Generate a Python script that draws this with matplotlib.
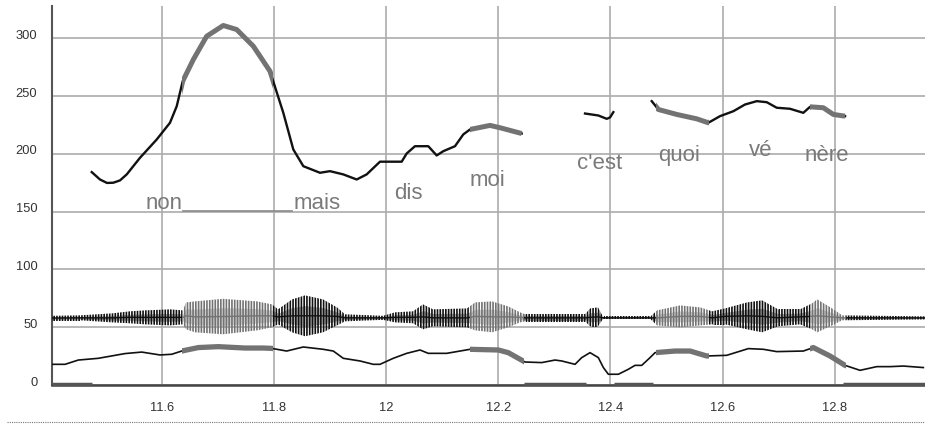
import numpy as np
import matplotlib
matplotlib.use('Agg')
import matplotlib.pyplot as plt
from matplotlib.path import Path
from matplotlib.patches import PathPatch
from matplotlib.lines import Line2D
import matplotlib.transforms as mtrans

plt.rcParams['font.family'] = ['Liberation Sans', 'DejaVu Sans']
plt.rcParams['hatch.linewidth'] = 1.2

nan = np.nan

# ---------------- data ----------------
# F0 contour (Hz); nan separates voiced stretches
pitch_t = [11.4753, 11.490, 11.5025, 11.5138, 11.5257, 11.5377, 11.5614, 11.5911, 11.6148,
           11.6268, 11.6375, 11.6564, 11.6802, 11.7098, 11.7337, 11.7633, 11.7931, 11.8168,
           11.8346, 11.8525, 11.8822, 11.9000, 11.9237, 11.9476, 11.9654, 11.9891, 12.0278,
           12.0367, 12.0515, 12.0752, 12.0902, 12.1020, 12.1228, 12.1376, 12.1496, 12.1852,
           12.2031, 12.2417,
           nan,
           12.3546, 12.3783, 12.3933, 12.3992, 12.4051,
           nan,
           12.4735, 12.4853, 12.5181, 12.5537, 12.5744, 12.5952, 12.6190, 12.6398, 12.6607,
           12.6785, 12.6963, 12.7200, 12.7437, 12.7557, 12.7794, 12.7972, 12.8181]
pitch_f = [184.3, 177.9, 174.9, 175.1, 177.1, 182.3, 196.7, 212.5, 227.0,
           241.3, 263.0, 281.7, 301.9, 311.2, 307.7, 293.3, 271.6, 235.6,
           203.9, 189.4, 183.7, 185.1, 182.3, 177.9, 182.3, 193.3, 193.3,
           200.4, 206.7, 206.7, 198.7, 202.4, 206.7, 216.9, 221.2, 224.7,
           222.7, 217.7,
           nan,
           235.0, 233.3, 230.4, 231.6, 236.2,
           nan,
           245.7, 238.5, 234.2, 230.4, 227.0, 232.7, 237.0, 242.8, 245.7,
           244.8, 240.0, 239.1, 235.6, 240.8, 240.0, 234.2, 232.7]

# intensity curve
inten_t = [11.4040, 11.4277, 11.4514, 11.4870, 11.5346, 11.5644, 11.5970, 11.6179, 11.6357,
           11.6653, 11.7009, 11.7485, 11.7811, 11.7961, 11.8228, 11.8524, 11.8881, 11.9059,
           11.9237, 11.9535, 11.9772, 11.9891, 12.0128, 12.0367, 12.0605, 12.0752, 12.1080,
           12.1496, 12.2000, 12.2178, 12.2476, 12.2774, 12.3011, 12.3131, 12.3368, 12.3487,
           12.3635, 12.3783, 12.3873, 12.3962, 12.4140, 12.4318, 12.4437, 12.4557, 12.4705,
           12.4794, 12.5151, 12.5418, 12.5716, 12.6072, 12.6457, 12.6725, 12.6963, 12.7437,
           12.7616, 12.7913, 12.8181, 12.8448, 12.8746, 12.8983, 12.9220, 12.9577]
inten_v = [17.9, 17.9, 21.6, 23.1, 27.2, 28.5, 26.0, 26.6, 29.4,
           32.4, 33.2, 32.0, 32.0, 31.7, 29.4, 32.9, 30.9, 29.4,
           23.1, 20.8, 17.9, 17.9, 23.1, 27.4, 30.3, 27.4, 27.4,
           30.9, 30.3, 28.0, 19.9, 19.4, 21.6, 20.8, 17.9, 23.7,
           28.0, 23.7, 15.1, 9.3, 9.3, 13.6, 17.0, 17.0, 23.7,
           28.0, 29.4, 29.4, 25.1, 25.7, 31.5, 30.9, 28.9, 29.4,
           32.4, 25.1, 17.0, 12.7, 15.9, 15.9, 16.4, 15.1]

# waveform envelope (upper / lower, drawn around ~57)
wave_t = [11.4045, 11.4544, 11.5115, 11.5435, 11.5703, 11.6148, 11.6380, 11.6434, 11.6594,
          11.7093, 11.7699, 11.7967, 11.8074, 11.8323, 11.8555, 11.8876, 11.9125, 11.9268,
          11.9945, 12.0159, 12.0480, 12.0658, 12.0837, 12.1443, 12.1586, 12.1889, 12.2174,
          12.2388, 12.2477, 12.3547, 12.3636, 12.3778, 12.3868, 12.4706, 12.4830, 12.5240,
          12.5597, 12.5811, 12.6043, 12.6435, 12.6702, 12.6988, 12.7380, 12.7594, 12.7684,
          12.7951, 12.8129, 12.9608]
wave_hi = [59.9, 60.3, 62.0, 63.8, 64.6, 65.5, 64.6, 71.5, 72.4,
           74.6, 72.4, 69.8, 65.5, 74.1, 77.6, 74.1, 67.2, 61.2,
           59.9, 62.9, 63.8, 69.8, 65.5, 66.3, 71.5, 72.4, 68.1,
           62.9, 61.2, 61.2, 66.3, 67.2, 59.0, 59.0, 64.6, 68.9,
           67.2, 63.8, 66.3, 71.5, 73.3, 65.5, 65.5, 70.7, 74.1,
           66.3, 60.3, 59.4]
wave_lo = [56.0, 56.0, 54.2, 53.4, 52.5, 51.6, 52.5, 48.2, 45.6,
           43.9, 47.3, 49.9, 52.5, 45.6, 42.2, 45.6, 51.6, 55.1,
           56.4, 54.2, 53.4, 48.2, 50.8, 49.9, 47.3, 45.6, 49.9,
           54.2, 55.1, 55.1, 50.8, 50.8, 57.3, 57.3, 51.6, 49.9,
           51.6, 52.5, 52.5, 48.2, 45.6, 50.8, 52.5, 48.2, 45.6,
           51.6, 56.0, 56.8]

# highlighted (stressed) stretches
spans = [(11.637, 11.798), (12.149, 12.245), (12.481, 12.575), (12.755, 12.820)]

# unvoiced stretches marked on the time axis
unvoiced = [(11.404, 11.476), (12.245, 12.356), (12.406, 12.476), (12.814, 12.961)]

# syllable labels
words = ["non", "mais", "dis", "moi", "c'est", "quoi", "vé", "nère"]
word_t = [11.6041, 11.8769, 12.0391, 12.1808, 12.3813, 12.5230, 12.6680, 12.7854]
word_y = [152.0, 152.0, 160.6, 171.9, 186.6, 193.5, 197.8, 193.5]

xticks = [11.6, 11.8, 12.0, 12.2, 12.4, 12.6, 12.8]
xtick_labels = ["11.6", "11.8", "12", "12.2", "12.4", "12.6", "12.8"]
yticks = [0, 50, 100, 150, 200, 250, 300]

# ---------------- figure ----------------
fig = plt.figure(figsize=(9.25, 4.26), dpi=100)
ax = fig.add_axes([52 / 925, 41 / 426, 1 - 52 / 925, 379.5 / 426])
xlim = (11.4045, 12.9606)
ax.set_xlim(*xlim)
ax.set_ylim(0, 328.5)

ax.set_xticks(xticks)
ax.set_xticklabels(xtick_labels)
ax.set_yticks(yticks)
ax.tick_params(axis='both', length=0, labelsize=9.3, labelcolor='#333333')
ax.tick_params(axis='x', pad=12.5)
ax.tick_params(axis='y', pad=10.5)
off = mtrans.ScaledTranslation(0, 4 / 100, fig.dpi_scale_trans)
for lab in ax.get_yticklabels():
    lab.set_transform(lab.get_transform() + off)

ax.grid(True, color='#ababab', linewidth=1.2, zorder=0)
ax.set_axisbelow(True)
for s in ('top', 'right'):
    ax.spines[s].set_visible(False)
ax.spines['left'].set_color('#555555')
ax.spines['left'].set_linewidth(1.5)
ax.spines['bottom'].set_color('#444444')
ax.spines['bottom'].set_linewidth(1.8)


def rect_path(intervals, y0=-100, y1=600):
    verts, codes = [], []
    for a, b in intervals:
        verts += [(a, y0), (b, y0), (b, y1), (a, y1), (a, y0)]
        codes += [Path.MOVETO, Path.LINETO, Path.LINETO, Path.LINETO, Path.CLOSEPOLY]
    return Path(verts, codes)


outside = []
prev = xlim[0] - 1
for a, b in spans:
    outside.append((prev, a))
    prev = b
outside.append((prev, xlim[1] + 1))

in_patch = PathPatch(rect_path(spans), transform=ax.transData, fc='none', ec='none')
out_patch = PathPatch(rect_path(outside), transform=ax.transData, fc='none', ec='none')

GREY = '#737373'
BLACK = '#111111'

# waveform
wt = np.array(wave_t)
wh = np.array(wave_hi)
wl = np.array(wave_lo)
for col, patch in ((BLACK, out_patch), (GREY, in_patch)):
    pc = ax.fill_between(wt, wl, wh, facecolor='none', edgecolor=col,
                         hatch='||||||', linewidth=0, zorder=3)
    pc.set_clip_path(patch)
    inner = ax.fill_between(wt, (wl + (wh + wl) / 2) / 2, (wh + (wh + wl) / 2) / 2,
                            color=col, alpha=0.35, linewidth=0, zorder=3)
    inner.set_clip_path(patch)
    ln, = ax.plot(wt, (wh + wl) / 2, color=col, lw=1.0, zorder=3)
    ln.set_clip_path(patch)

# intensity
ax.plot(inten_t, inten_v, color=BLACK, lw=1.2, zorder=4)
g, = ax.plot(inten_t, inten_v, color=GREY, lw=3.8, zorder=4, solid_capstyle='butt')
g.set_clip_path(in_patch)

# pitch
ax.plot(pitch_t, pitch_f, color=BLACK, lw=1.7, zorder=5)
g, = ax.plot(pitch_t, pitch_f, color=GREY, lw=3.6, zorder=5, solid_capstyle='butt')
g.set_clip_path(in_patch)

# unvoiced marks on the axis
for a, b in unvoiced:
    ax.plot([a, b], [0.8, 0.8], color='#555555', lw=2.5, zorder=6, clip_on=False,
            solid_capstyle='butt')

# labels
for w, x, y in zip(words, word_t, word_y):
    ax.text(x, y, w, fontsize=16, color='#7a7a7a', ha='center', va='baseline', zorder=6)
ax.plot([11.6375, 11.8325], [150.6, 150.6], color='#8a8a8a', lw=1.2, zorder=2)

fig.add_artist(Line2D([0.008, 1.0], [0.0087, 0.0087], transform=fig.transFigure,
                      color='#777777', lw=0.8, linestyle=(0, (1, 1))))

fig.savefig('out.png', dpi=100)
